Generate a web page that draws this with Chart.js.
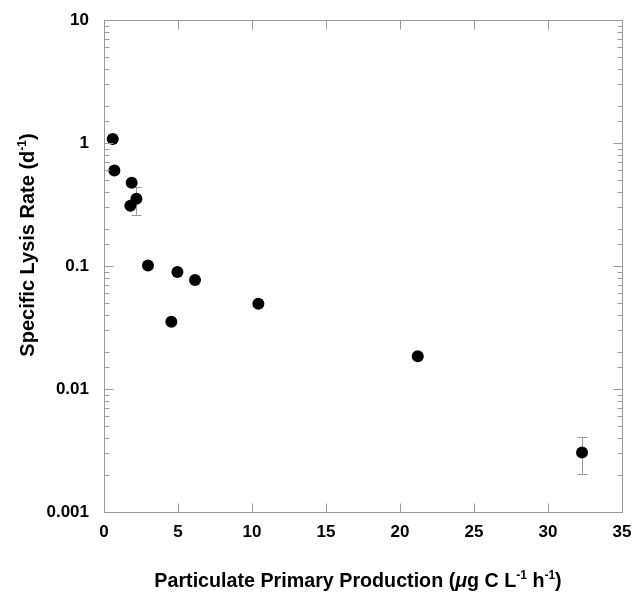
<!DOCTYPE html>
<html>
<head>
<meta charset="utf-8">
<script src="https://cdn.jsdelivr.net/npm/chart.js@4"></script>
<style>
  html, body { margin: 0; padding: 0; background: #fff; }
  #wrap { width: 633px; height: 594px; }
</style>
</head>
<body>
<div id="wrap"><canvas id="chart" width="633" height="594"></canvas></div>
<script>
// production (ug C/L/h) vs specific lysis rate (1/d)
const production = [0.59, 0.70, 1.87, 2.19, 1.78, 2.97, 4.96, 6.15, 4.55, 10.43, 21.2, 32.3];
const lysisRate = [1.08, 0.598, 0.475, 0.352, 0.309, 0.101, 0.0894, 0.0769, 0.0352, 0.0493, 0.0185, 0.00305];
// error bars (only two points have them, null elsewhere)
const errLow = [null, null, null, 0.261, null, null, null, null, null, null, null, 0.00204];
const errHigh = [null, null, null, 0.44, null, null, null, null, null, null, null, 0.00404];
const xTicks = [0, 5, 10, 15, 20, 25, 30, 35];
const yTicks = [0.001, 0.01, 0.1, 1, 10];

const FONT = '"Liberation Sans", Arial, Helvetica, sans-serif';
const AXIS_GREY = '#9a9a9a';

const points = production.map((x, i) => ({ x: x, y: lysisRate[i] }));

function isDecade(v) {
    const l = Math.log10(v);
    return Math.abs(l - Math.round(l)) < 1e-6;
}

// draw a string made of pieces, some of them superscripts
function drawPieces(ctx, pieces, size, align) {
    const supSize = Math.round(size * 0.62);
    let total = 0;
    pieces.forEach(p => {
        ctx.font = (p.italic ? 'italic ' : '') + 'bold ' + (p.sup ? supSize : size) + 'px ' + FONT;
        p.w = ctx.measureText(p.t).width;
        total += p.w;
    });
    let x = align === 'center' ? -total / 2 : 0;
    pieces.forEach(p => {
        ctx.font = (p.italic ? 'italic ' : '') + 'bold ' + (p.sup ? supSize : size) + 'px ' + FONT;
        ctx.fillText(p.t, x, p.sup ? -size * 0.42 : 0);
        x += p.w;
    });
}

const framePlugin = {
    id: 'frame',
    beforeDatasetsDraw(chart) {
        const ctx = chart.ctx;
        const xs = chart.scales.x, ys = chart.scales.y;
        ctx.save();
        ctx.strokeStyle = AXIS_GREY;
        ctx.lineWidth = 1;
        // error bars
        production.forEach((v, i) => {
            if (errLow[i] == null) return;
            const px = Math.round(xs.getPixelForValue(v)) + 0.5;
            const y1 = ys.getPixelForValue(errLow[i]);
            const y2 = ys.getPixelForValue(errHigh[i]);
            ctx.beginPath();
            ctx.moveTo(px, y1); ctx.lineTo(px, y2);
            ctx.moveTo(px - 5, Math.round(y1) + 0.5); ctx.lineTo(px + 5, Math.round(y1) + 0.5);
            ctx.moveTo(px - 5, Math.round(y2) + 0.5); ctx.lineTo(px + 5, Math.round(y2) + 0.5);
            ctx.stroke();
        });
        ctx.restore();
    },
    afterDraw(chart) {
        const ctx = chart.ctx;
        const a = chart.chartArea;
        const xs = chart.scales.x, ys = chart.scales.y;
        const L = Math.round(a.left) + 0.5, R = Math.round(a.right) + 0.5;
        const T = Math.round(a.top) + 0.5, B = Math.round(a.bottom) + 0.5;
        ctx.save();
        ctx.strokeStyle = AXIS_GREY;
        ctx.lineWidth = 1;
        ctx.strokeRect(L, T, R - L, B - T);
        ctx.beginPath();
        // x ticks, inward on bottom and top
        xs.ticks.forEach(t => {
            const px = Math.round(xs.getPixelForValue(t.value)) + 0.5;
            ctx.moveTo(px, B); ctx.lineTo(px, B - 9);
            ctx.moveTo(px, T); ctx.lineTo(px, T + 9);
        });
        // y ticks, long at decades and short in between
        ys.ticks.forEach(t => {
            const py = Math.round(ys.getPixelForValue(t.value)) + 0.5;
            const len = isDecade(t.value) ? 9 : 5;
            ctx.moveTo(L, py); ctx.lineTo(L + len, py);
            ctx.moveTo(R, py); ctx.lineTo(R - len, py);
        });
        ctx.stroke();

        // axis titles
        ctx.fillStyle = '#000';
        ctx.textBaseline = 'alphabetic';
        ctx.save();
        ctx.translate((a.left + a.right) / 2 - 5, 587);
        drawPieces(ctx, [
            { t: 'Particulate Primary Production (' },
            { t: '\u03bc', italic: true },
            { t: 'g C L' },
            { t: '-1', sup: true },
            { t: ' h' },
            { t: '-1', sup: true },
            { t: ')' }
        ], 19.7, 'center');
        ctx.restore();

        ctx.save();
        ctx.translate(34, 245);
        ctx.rotate(-Math.PI / 2);
        drawPieces(ctx, [
            { t: 'Specific Lysis Rate (d' },
            { t: '-1', sup: true },
            { t: ')' }
        ], 20, 'center');
        ctx.restore();
        ctx.restore();
    }
};

new Chart(document.getElementById('chart'), {
    type: 'scatter',
    data: {
        datasets: [{
            data: points,
            backgroundColor: '#000',
            borderColor: '#000',
            pointRadius: 6,
            pointHoverRadius: 6,
            borderWidth: 0
        }]
    },
    options: {
        responsive: false,
        animation: false,
        layout: { padding: { left: 0, top: 20, right: 11, bottom: 0 } },
        plugins: {
            legend: { display: false },
            tooltip: { enabled: false }
        },
        scales: {
            x: {
                type: 'linear',
                min: 0,
                max: 35,
                afterBuildTicks: scale => { scale.ticks = xTicks.map(v => ({ value: v })); },
                afterFit: scale => {
                    scale.height = 82;
                    scale.paddingLeft = 0;
                    scale.paddingRight = 0;
                },
                grid: { display: false },
                border: { display: false },
                ticks: {
                    color: '#000',
                    padding: 2,
                    font: { family: FONT, size: 17, weight: 'bold' }
                }
            },
            y: {
                type: 'logarithmic',
                min: 0.001,
                max: 10,
                afterFit: scale => {
                    scale.width = 104;
                    scale.paddingTop = 0;
                    scale.paddingBottom = 0;
                },
                grid: { display: false },
                border: { display: false },
                ticks: {
                    color: '#000',
                    padding: 7,
                    autoSkip: false,
                    font: { family: FONT, size: 17, weight: 'bold' },
                    callback: v => (isDecade(v) && yTicks.some(t => Math.abs(t - v) / t < 1e-6)) ? String(v) : ''
                }
            }
        }
    },
    plugins: [framePlugin]
});
</script>
</body>
</html>
